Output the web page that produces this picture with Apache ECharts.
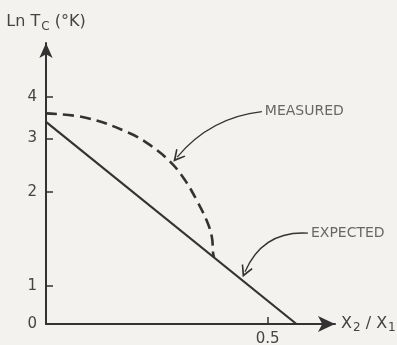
<!DOCTYPE html>
<html>
<head>
<meta charset="utf-8">
<script src="https://cdn.jsdelivr.net/npm/echarts@6/dist/echarts.min.js"></script>
<style>
  html, body { margin: 0; padding: 0; background: #f3f2ee; }
  #chart { width: 397px; height: 345px; }
</style>
</head>
<body>
<div id="chart"></div>
<script>
// schematic figure: y axis is not to scale, ticks sit where the drawing puts them
var yTickAt = [0, 0.67, 2.33, 3.27, 4.0];
var yTickLabels = ['0', '1', '2', '3', '4'];
var xTickAt = [0.5];
var xTickLabels = ['0.5'];

// X2/X1 , Ln Tc
var expected = [[0, 3.56], [0.565, 0]];
var measured = [
    [0, 3.71], [0.092, 3.63], [0.189, 3.36], [0.235, 3.15], [0.280, 2.86],
    [0.313, 2.54], [0.340, 2.18], [0.362, 1.83], [0.374, 1.54], [0.377, 1.25],
    [0.379, 1.18]
];

// annotation arrows: from label to curve
var arrowNames = ['MEASURED', 'EXPECTED'];
var arrowFrom = [[0.487, 3.74], [0.591, 1.60]];
var arrowTo = [[0.296, 2.94], [0.449, 0.92]];
var arrowBend = [-0.2, -0.35];

var ink = '#333';
var textInk = '#444';
var font = 'DejaVu Sans';

var nameRich = {
    m: { fontFamily: font, fontSize: 16, color: textInk, lineHeight: 17, verticalAlign: 'top' },
    s: { fontFamily: font, fontSize: 12, color: textInk, lineHeight: 12, padding: [8, 0, 0, 1] }
};

var myChart = echarts.init(document.getElementById('chart'));

var option = {
    backgroundColor: '#f3f2ee',
    animation: false,
    grid: {
        left: 46,
        right: 62,
        top: 43,
        bottom: 21,
        outerBoundsMode: 'none'
    },
    xAxis: {
        type: 'value',
        min: 0,
        max: 0.652,
        name: '{m|X}{s|2}{m| / X}{s|1}',
        nameLocation: 'end',
        nameGap: 6,
        nameTextStyle: { rich: nameRich },
        axisLine: {
            lineStyle: { color: ink, width: 2 },
            symbol: ['none', 'arrow'],
            symbolSize: [12, 17]
        },
        axisTick: {
            show: true,
            inside: true,
            length: 7,
            customValues: xTickAt,
            lineStyle: { color: ink, width: 1.5 }
        },
        axisLabel: {
            customValues: xTickAt,
            margin: 8,
            fontFamily: font,
            fontSize: 15,
            color: textInk,
            formatter: function (v) {
                return xTickLabels[xTickAt.indexOf(v)];
            }
        },
        splitLine: { show: false }
    },
    yAxis: {
        type: 'value',
        min: 0,
        max: 4.95,
        name: '{m|Ln T}{s|C}{m| (°K)}',
        nameLocation: 'end',
        nameGap: 12,
        nameTextStyle: { rich: nameRich },
        axisLine: {
            show: true,
            lineStyle: { color: ink, width: 2 },
            symbol: ['none', 'arrow'],
            symbolSize: [10, 15]
        },
        axisTick: {
            show: true,
            inside: true,
            length: 7,
            customValues: yTickAt.slice(1),
            lineStyle: { color: ink, width: 1.5 }
        },
        axisLabel: {
            customValues: yTickAt,
            margin: 9,
            fontFamily: font,
            fontSize: 15,
            color: textInk,
            formatter: function (v) {
                return yTickLabels[yTickAt.indexOf(v)];
            }
        },
        splitLine: { show: false }
    },
    series: [
        {
            name: 'expected',
            type: 'line',
            data: expected,
            symbol: 'none',
            lineStyle: { color: ink, width: 2.2 }
        },
        {
            name: 'measured',
            type: 'line',
            data: measured,
            symbol: 'none',
            smooth: 0.4,
            lineStyle: { color: ink, width: 2.6, type: [11, 6] }
        },
        {
            name: 'arrows',
            type: 'lines',
            coordinateSystem: 'cartesian2d',
            symbol: ['none', 'path://M5,0 L10,12 L8.8,12.6 L5,4 L1.2,12.6 L0,12 Z'],
            symbolSize: [9, 12],
            lineStyle: { color: ink, width: 1.3, opacity: 1 },
            data: arrowNames.map(function (n, i) {
                return {
                    coords: [arrowFrom[i], arrowTo[i]],
                    lineStyle: { curveness: arrowBend[i] }
                };
            })
        },
        {
            name: 'notes',
            type: 'scatter',
            symbolSize: 0,
            data: arrowNames.map(function (n, i) {
                return { name: n, value: arrowFrom[i] };
            }),
            label: {
                show: true,
                position: 'right',
                distance: 3,
                fontFamily: font,
                fontSize: 14,
                color: textInk,
                formatter: '{b}'
            }
        }
    ]
};

myChart.clear();
myChart.setOption(option, true);
</script>
</body>
</html>
